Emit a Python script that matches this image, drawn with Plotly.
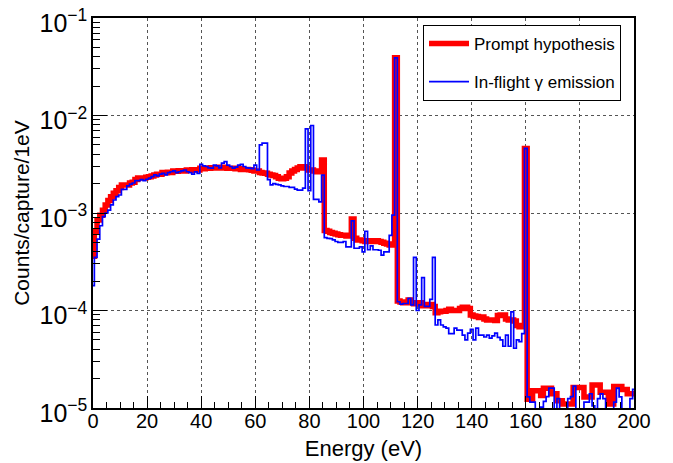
import plotly.graph_objects as go

energy = list(range(201))

prompt = [
    3.6e-4, 6.5e-4, 8.5e-4, 9.5e-4, 1.07e-3, 1.21e-3, 1.34e-3, 1.47e-3, 1.59e-3, 1.69e-3,
    1.83e-3, 1.94e-3, 1.94e-3, 1.94e-3, 2.03e-3, 2.07e-3, 2.2e-3, 2.28e-3, 2.28e-3, 2.28e-3,
    2.32e-3, 2.36e-3, 2.4e-3, 2.46e-3, 2.5e-3, 2.5e-3, 2.6e-3, 2.58e-3, 2.62e-3, 2.6e-3,
    2.7e-3, 2.68e-3, 2.72e-3, 2.7e-3, 2.7e-3, 2.76e-3, 2.74e-3, 2.78e-3, 2.76e-3, 2.76e-3,
    2.88e-3, 2.85e-3, 2.9e-3, 2.88e-3, 2.92e-3, 2.9e-3, 2.9e-3, 2.94e-3, 2.94e-3, 2.9e-3,
    2.88e-3, 2.88e-3, 2.88e-3, 2.85e-3, 2.85e-3, 2.8e-3, 2.8e-3, 2.8e-3, 2.78e-3, 2.75e-3,
    2.7e-3, 2.7e-3, 2.6e-3, 2.57e-3, 2.55e-3, 2.5e-3, 2.46e-3, 2.42e-3, 2.35e-3, 2.27e-3,
    2.25e-3, 2.27e-3, 2.35e-3, 2.57e-3, 2.7e-3, 2.8e-3, 2.9e-3, 2.98e-3, 2.98e-3, 2.9e-3,
    2.76e-3, 2.76e-3, 2.7e-3, 2.65e-3, 2.65e-3, 3.5e-3, 6.6e-4, 6.5e-4, 6.3e-4, 6.2e-4,
    6.1e-4, 6.0e-4, 5.9e-4, 5.9e-4, 5.8e-4, 5.8e-4, 8.7e-4, 5.5e-4, 5.3e-4, 5.3e-4,
    5.2e-4, 5.1e-4, 5.2e-4, 5.1e-4, 5.1e-4, 5.2e-4, 5.1e-4, 5.0e-4, 4.9e-4, 4.8e-4,
    4.7e-4, 4.8e-4, 3.9e-2, 1.25e-4, 1.22e-4, 1.2e-4, 1.22e-4, 1.28e-4, 1.2e-4, 1.17e-4,
    1.17e-4, 1.2e-4, 1.12e-4, 1.12e-4, 1.15e-4, 1.15e-4, 1.1e-4, 9.5e-5, 9.7e-5, 9.8e-5,
    9.8e-5, 1.0e-4, 1.03e-4, 1.0e-4, 1.0e-4, 1.0e-4, 1.05e-4, 1.08e-4, 1.08e-4, 1.05e-4,
    9.0e-5, 8.8e-5, 8.7e-5, 8.5e-5, 8.6e-5, 8.2e-5, 8.0e-5, 8.0e-5, 8.0e-5, 7.9e-5,
    8.9e-5, 9.0e-5, 9.0e-5, 8.2e-5, 8.0e-5, 8.0e-5, 7.8e-5, 7.0e-5, 6.8e-5, 6.8e-5,
    4.6e-3, 1.23e-5, 1.23e-5, 1.5e-5, 1.5e-5, 1.5e-5, 1.34e-5, 1.59e-5, 1.59e-5, 1.59e-5,
    1.4e-5, 1.4e-5, 1.19e-5, 1.19e-5, 1.1e-5, 1.1e-5, 1.1e-5, 1.1e-5, 1.62e-5, 1.62e-5,
    1.62e-5, 1.62e-5, 1.3e-5, 1.3e-5, 1.3e-5, 1.72e-5, 1.72e-5, 1.72e-5, 1.45e-5, 1.45e-5,
    1.45e-5, 1.1e-5, 1.1e-5, 1.66e-5, 1.66e-5, 1.66e-5, 1.55e-5, 1.55e-5, 1.4e-5, 1.4e-5,
    1.4e-5,
]

inflight = [
    1.8e-4, 3.5e-4, 5.4e-4, 7.4e-4, 9.2e-4, 1.0e-3, 1.07e-3, 1.21e-3, 1.36e-3, 1.47e-3,
    1.53e-3, 1.75e-3, 1.75e-3, 1.9e-3, 1.98e-3, 2.03e-3, 2.15e-3, 2.15e-3, 2.2e-3, 2.15e-3,
    2.22e-3, 2.28e-3, 2.36e-3, 2.46e-3, 2.4e-3, 2.5e-3, 2.55e-3, 2.46e-3, 2.6e-3, 2.65e-3,
    2.7e-3, 2.6e-3, 2.65e-3, 2.7e-3, 2.76e-3, 2.65e-3, 2.6e-3, 2.5e-3, 2.65e-3, 2.55e-3,
    3.15e-3, 3.05e-3, 3.0e-3, 2.9e-3, 2.88e-3, 3.1e-3, 3.05e-3, 2.9e-3, 3.25e-3, 3.36e-3,
    3.1e-3, 3.0e-3, 2.88e-3, 2.95e-3, 3.1e-3, 3.15e-3, 3.0e-3, 2.9e-3, 2.88e-3, 2.85e-3,
    3.1e-3, 2.76e-3, 5.0e-3, 5.2e-3, 5.2e-3, 2.2e-3, 1.94e-3, 2.0e-3, 1.97e-3, 1.94e-3,
    1.9e-3, 1.87e-3, 1.87e-3, 1.83e-3, 1.83e-3, 1.76e-3, 1.72e-3, 1.72e-3, 1.8e-3, 7.3e-3,
    1.7e-3, 7.9e-3, 1.38e-3, 1.38e-3, 1.3e-3, 2.45e-3, 5.6e-4, 5.5e-4, 5.45e-4, 5.3e-4,
    5.1e-4, 5.0e-4, 5.0e-4, 5.1e-4, 4.5e-4, 4.5e-4, 8.3e-4, 4.35e-4, 4.35e-4, 4.5e-4,
    4.0e-4, 6.5e-4, 4.2e-4, 4.6e-4, 4.2e-4, 4.2e-4, 4.15e-4, 3.7e-4, 4.0e-4, 4.0e-4,
    5.9e-4, 9.5e-4, 3.9e-2, 1.23e-4, 1.16e-4, 1.18e-4, 1.18e-4, 1.33e-4, 1.14e-4, 3.5e-4,
    1.0e-4, 1.14e-4, 2.17e-4, 1.1e-4, 1.1e-4, 1.3e-4, 3.5e-4, 7.1e-5, 8.0e-5, 7.1e-5,
    6.8e-5, 6.6e-5, 5.8e-5, 5.8e-5, 6.6e-5, 6.3e-5, 6.3e-5, 5.6e-5, 5.0e-5, 5.85e-5,
    6.4e-5, 5.0e-5, 6.6e-5, 5.6e-5, 5.6e-5, 5.35e-5, 5.6e-5, 5.2e-5, 5.5e-5, 5.85e-5,
    5.3e-5, 5.0e-5, 4.3e-5, 5.6e-5, 4.3e-5, 9.7e-5, 4.1e-5, 5.0e-5, 4.8e-5, 5.8e-5,
    4.6e-3, 1.3e-5, 1.15e-5, 1.15e-5, 9e-6, 9e-6, 1.02e-5, 1.17e-5, 1.31e-5, 1.6e-5,
    1.6e-5, 9e-6, 1.25e-5, 9e-6, 9e-6, 9e-6, 1.25e-5, 1.31e-5, 1.68e-5, 9e-6,
    9e-6, 9e-6, 1.15e-5, 1.15e-5, 1.4e-5, 1.05e-5, 9e-6, 1.25e-5, 1.4e-5, 1.25e-5,
    9e-6, 9e-6, 9e-6, 1.15e-5, 1.6e-5, 1.3e-5, 9e-6, 9e-6, 9e-6, 1.25e-5,
    1.55e-5,
]

assert len(prompt) == len(energy) and len(inflight) == len(energy)

FONT = "Liberation Sans, Arial, Helvetica, sans-serif"

fig = go.Figure()
fig.add_trace(go.Scatter(
    x=energy, y=prompt, mode="lines", line=dict(color="#ff0000", width=5.5, shape="hvh"),
    name="Prompt hypothesis", legendgroup="a",
))
fig.add_trace(go.Scatter(
    x=energy, y=inflight, mode="lines", line=dict(color="#0000ff", width=1.7, shape="hvh"),
    name="In-flight \u03b3 emission", legendgroup="b",
))

# page body adds an 8px offset, so the figure is sized/margined to compensate
fig.update_layout(
    width=665, height=455,
    margin=dict(l=85, r=39, t=10, b=55),
    paper_bgcolor="white", plot_bgcolor="white",
    font=dict(family=FONT, color="black"),
    showlegend=True,
    legend=dict(
        x=0.61, y=0.982, xanchor="left", yanchor="top",
        bgcolor="white", bordercolor="black", borderwidth=1,
        font=dict(size=17, family=FONT), tracegroupgap=13, itemwidth=40,
    ),
    xaxis=dict(
        range=[0, 200], dtick=20, tick0=0, automargin=False,
        ticks="inside", ticklen=12, tickwidth=1, tickcolor="black",
        minor=dict(dtick=5, ticks="inside", ticklen=6, tickcolor="black", showgrid=False),
        showgrid=True, gridcolor="#555555", griddash="dot", gridwidth=1,
        showline=True, linecolor="black", linewidth=1.5, mirror=True,
        zeroline=False, tickfont=dict(size=20, family=FONT), ticklabelstandoff=-6,
        ticklabeloverflow="allow",
        title=dict(text="Energy (eV)", font=dict(size=22, family=FONT), standoff=10),
    ),
    yaxis=dict(
        type="log", range=[-5, -1], dtick=1, exponentformat="power", automargin=False,
        ticks="inside", ticklen=14, tickwidth=1, tickcolor="black",
        minor=dict(dtick="D1", ticks="inside", ticklen=7, tickcolor="black", showgrid=False),
        showgrid=True, gridcolor="#555555", griddash="dot", gridwidth=1,
        showline=True, linecolor="black", linewidth=1.5, mirror=True,
        zeroline=False, tickfont=dict(size=20, family=FONT), ticklabeloverflow="allow",
        ticklabelshift=5,
        title=dict(text="Counts/capture/1eV", font=dict(size=21, family=FONT), standoff=4),
    ),
)

fig.write_html("out.html")
